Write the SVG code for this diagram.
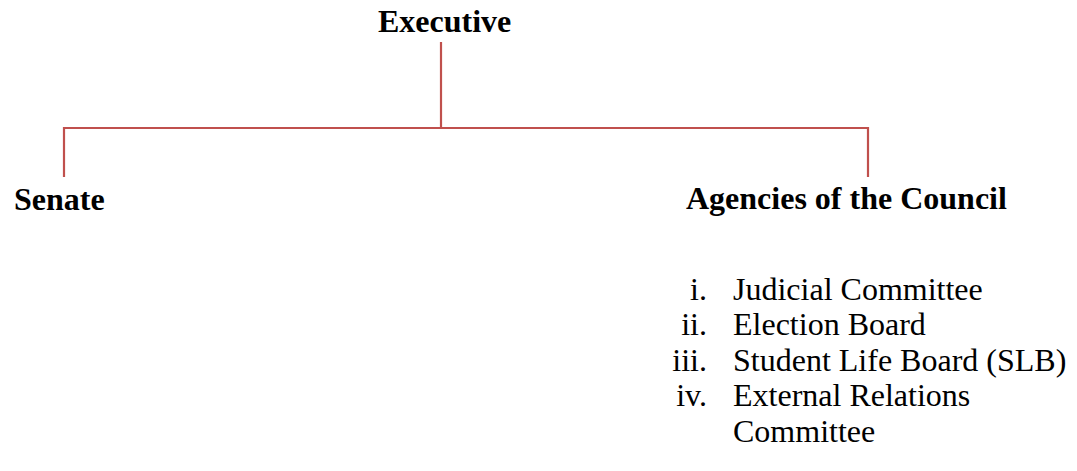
<svg xmlns="http://www.w3.org/2000/svg" width="1077" height="471" viewBox="0 0 1077 471">
<style>
.b{font-family:"Liberation Serif","Times New Roman",serif;font-weight:bold;font-size:32px;fill:#000}
.r{font-family:"Liberation Serif","Times New Roman",serif;font-size:32px;fill:#000}
.n{text-anchor:end}
.c{fill:none;stroke:#C0504D;stroke-width:2.2}
</style>
<rect width="1077" height="471" fill="#fff"/>
<g id="connectors">
<path class="c" d="M441 42V128"/>
<path class="c" d="M64 177V128H868V177"/>
</g>
<g id="executive"><text class="b" x="378" y="32">Executive</text></g>
<g id="senate"><text class="b" x="14" y="210">Senate</text></g>
<g id="agencies">
<text class="b" x="686" y="209">Agencies of the Council</text>
<text class="r n" x="707" y="300">i.</text><text class="r" x="733" y="300">Judicial Committee</text>
<text class="r n" x="707" y="335">ii.</text><text class="r" x="733" y="335">Election Board</text>
<text class="r n" x="707" y="371">iii.</text><text class="r" x="733" y="371">Student Life Board (SLB)</text>
<text class="r n" x="707" y="406">iv.</text><text class="r" x="733" y="406">External Relations</text>
<text class="r" x="733" y="442">Committee</text>
</g>
</svg>
